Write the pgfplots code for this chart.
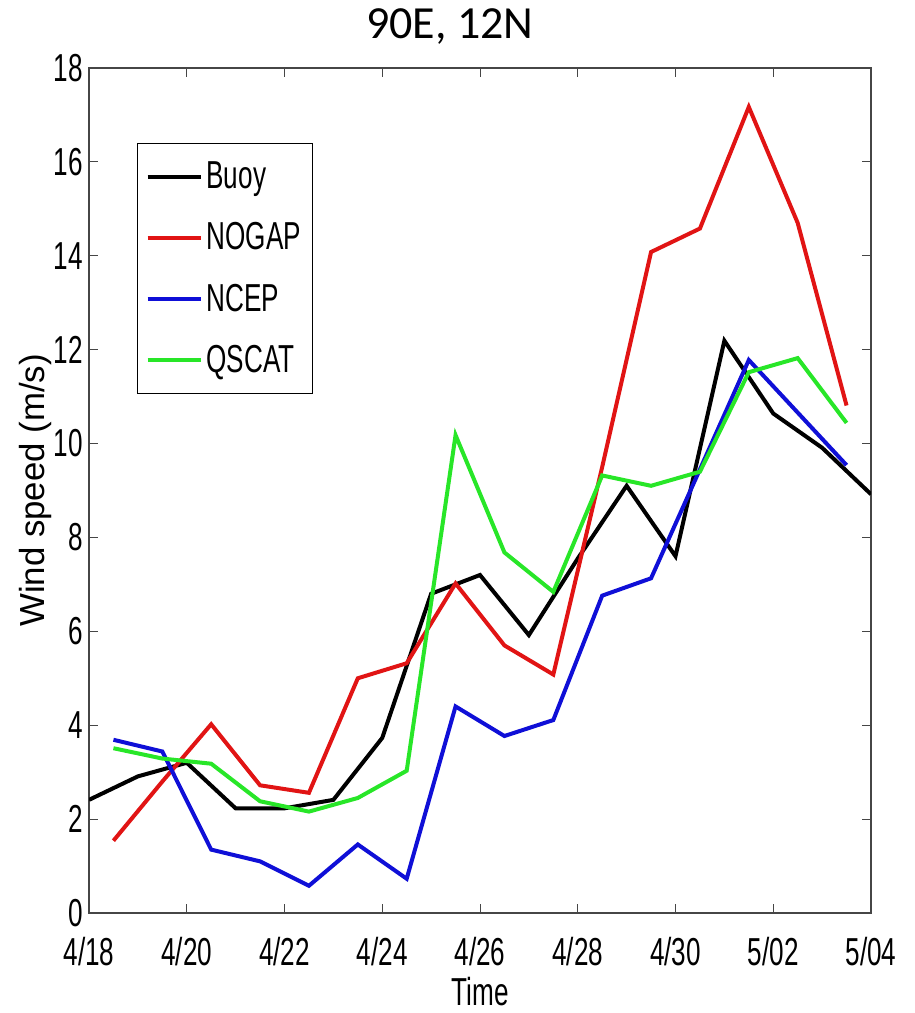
\documentclass[border=0pt]{standalone}
\usepackage{fontspec}
\setmainfont{Liberation Sans}
\newfontfamily\narrowfont[FakeStretch=0.67]{Liberation Sans}
\newfontfamily\titlefont{Carlito}
\usepackage{pgfplots}
\pgfplotsset{compat=1.18}

\definecolor{mred}{RGB}{225,20,20}
\definecolor{mblue}{RGB}{15,15,215}
\definecolor{mgreen}{RGB}{40,230,40}
\definecolor{axgray}{RGB}{70,70,70}

\begin{document}
\begin{tikzpicture}
\useasboundingbox (0,0) rectangle (457.5pt,506.5pt);
\begin{axis}[
    at={(44.5pt,50pt)}, anchor=south west,
    width=391pt, height=422.5pt, scale only axis,
    xmin=18, xmax=34, ymin=0, ymax=18,
    xtick={18,20,...,34},
    xticklabels={4/18,4/20,4/22,4/24,4/26,4/28,4/30,5/02,5/04},
    ytick={0,2,...,18},
    tick align=inside,
    major tick length=4.5pt,
    axis line style={axgray, line width=0.6pt},
    every tick/.style={axgray, line width=0.5pt},
    /pgf/number format/assume math mode=true,
    tick label style={font=\narrowfont\fontsize{19.5}{21}\selectfont},
    xticklabel style={yshift=-8.5pt},
    yticklabel style={inner xsep=0pt, xshift=-3pt},
    title={90E, 12N},
    title style={font=\titlefont\fontsize{23}{26}\selectfont, at={(axis description cs:0.4616,1)}, anchor=base, yshift=8.5pt},
    xlabel={Time},
    xlabel style={font=\narrowfont\fontsize{19.5}{21}\selectfont, at={(axis description cs:0.5,0)}, anchor=base, yshift=-46pt},
    ylabel={Wind speed (m/s)},
    ylabel style={font=\fontsize{17.4}{20}\selectfont, at={(axis description cs:-0.069,0.5)}, anchor=center, rotate=0},
    legend style={at={(axis description cs:0.0614,0.911)}, anchor=north west,
        draw=black, line width=0.5pt, fill=white,
        font=\narrowfont\fontsize{19.5}{21}\selectfont,
        inner xsep=4pt, inner ysep=7pt, row sep=11.5pt},
    legend cell align=left,
    legend image code/.code={\draw[#1] (0pt,0pt) -- (26.5pt,0pt);},
    every axis plot/.append style={line width=2pt},
]
\addplot[black] coordinates {
(18,2.41) (19,2.91) (20,3.20) (21,2.23) (22,2.23) (23,2.41) (24,3.73) (25,6.80)
(26,7.20) (27,5.92) (28,7.55) (29,9.10) (30,7.60) (31,12.19) (32,10.64) (33,9.91) (34,8.92)};
\addplot[mred] coordinates {
(18.5,1.54) (19.5,2.80) (20.5,4.02) (21.5,2.72) (22.5,2.56) (23.5,5.00) (24.5,5.32) (25.5,7.02)
(26.5,5.70) (27.5,5.08) (28.5,9.50) (29.5,14.08) (30.5,14.58) (31.5,17.17) (32.5,14.70) (33.5,10.81)};
\addplot[mblue] coordinates {
(18.5,3.69) (19.5,3.44) (20.5,1.35) (21.5,1.10) (22.5,0.58) (23.5,1.46) (24.5,0.73) (25.5,4.40)
(26.5,3.77) (27.5,4.11) (28.5,6.76) (29.5,7.13) (30.5,9.45) (31.5,11.78) (32.5,10.66) (33.5,9.54)};
\addplot[mgreen] coordinates {
(18.5,3.51) (19.5,3.29) (20.5,3.18) (21.5,2.38) (22.5,2.16) (23.5,2.45) (24.5,3.03) (25.5,10.18)
(26.5,7.68) (27.5,6.84) (28.5,9.32) (29.5,9.10) (30.5,9.40) (31.5,11.52) (32.5,11.82) (33.5,10.44)};
\legend{Buoy, NOGAP, NCEP, QSCAT}
\end{axis}
\end{tikzpicture}
\end{document}
